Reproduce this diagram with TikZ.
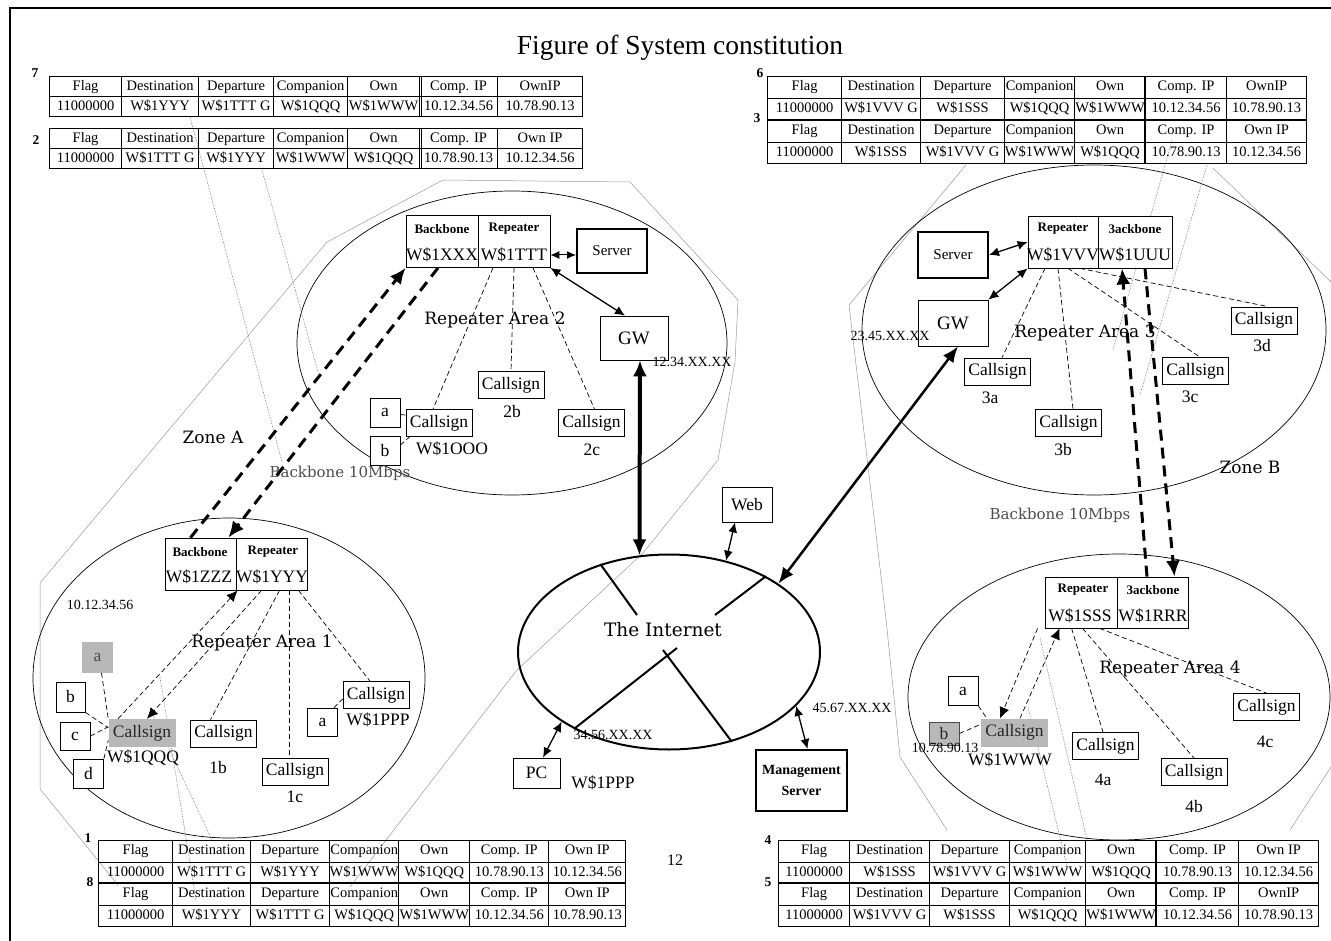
\documentclass[tikz,border=0pt]{standalone}
\usepackage{fontspec}
\setmainfont{Liberation Serif}
\newfontfamily\dvserif{DejaVu Serif}
\usetikzlibrary{arrows.meta,matrix,calc,shapes.geometric}
\newcommand\tabfont{\fontsize{14.5}{16}\selectfont}
\newcommand\csfont{\fontsize{17.5}{19}\selectfont}
\newcommand\hdfont{\bfseries\fontsize{13}{15}\selectfont}
\newcommand\wfont{\fontsize{17.5}{19}\selectfont}
\newcommand\arfont{\dvserif\fontsize{17}{19}\selectfont}
\newcommand\ipfont{\fontsize{14}{16}\selectfont}
\tikzset{
 bx/.style={draw, line width=0.8pt, fill=white, inner sep=0pt, minimum width=66pt, minimum height=27pt, font=\csfont},
 sbx/.style={draw, line width=0.8pt, fill=white, inner sep=0pt, minimum width=30pt, minimum height=29pt, font=\csfont},
 gbx/.style={fill=black!28, text=black!85, inner sep=0pt, minimum width=67pt, minimum height=28pt, font=\csfont},
 rep/.style={draw, line width=0.8pt, fill=white, inner sep=0pt, minimum width=72pt, minimum height=52pt},
 srv/.style={draw, line width=2pt, fill=white, inner sep=0pt, minimum width=70pt, minimum height=44pt, font=\fontsize{15}{17}\selectfont},
 tx/.style={inner sep=0pt},
 dl/.style={line width=0.7pt, dash pattern=on 5pt off 3pt},
 bb/.style={line width=3pt, dash pattern=on 11pt off 7pt},
 zn/.style={draw=black!40, line width=0.5pt},
 dt/.style={black!60, line width=0.6pt, densely dotted},
 dbl/.style={line width=1.3pt, {Latex[length=10pt,width=9pt]}-{Latex[length=10pt,width=9pt]}},
 sa/.style={-{Latex[length=11pt,width=10pt]}},
 tbl/.style={matrix of nodes, inner sep=0pt, column sep=-0.8pt, row sep=-0.8pt,
   nodes={draw, line width=0.8pt, inner sep=0pt, font=\tabfont, minimum height=#1, text height=10pt, text depth=3pt, anchor=center}},
 cols/.style n args={7}{column 1/.style={nodes={minimum width=#1}}, column 2/.style={nodes={minimum width=#2}},
   column 3/.style={nodes={minimum width=#3}}, column 4/.style={nodes={minimum width=#4}},
   column 5/.style={nodes={minimum width=#5}}, column 6/.style={nodes={minimum width=#6}},
   column 7/.style={nodes={minimum width=#7}}},
 num/.style={inner sep=0pt, font=\bfseries\fontsize{13.5}{15}\selectfont},
}
\begin{document}
\begin{tikzpicture}[x=1pt,y=-1pt]
\useasboundingbox (0,0) rectangle (1331,941);
\draw[line width=1.5pt] (1331,8) -- (10,8) -- (10,941);

% zone outlines
\draw[zn] (118,885) -- (40,789) -- (40,583) -- (327,242) -- (443,180) -- (630,182) -- (738,300) -- (735,362) -- (718,460) -- (643,553) -- (517,670) -- (350,887);
\draw[zn] (966,165) -- (849,305) -- (886,619) -- (900,757) -- (947,830);
\draw[zn] (1213,168) -- (1331,282);
\draw[zn] (1331,767) -- (1290,830);

% repeater areas
\draw[line width=0.7pt] (512,343) ellipse [x radius=215pt, y radius=152pt];
\draw[line width=0.7pt] (1094,330) ellipse [x radius=232pt, y radius=165pt];
\draw[line width=0.7pt] (229,678) ellipse [x radius=196pt, y radius=160pt];
\draw[line width=0.7pt] (1119,697) ellipse [x radius=211pt, y radius=143pt];

% message path hints
\draw[dt] (190,117) -- (282,462);
\draw[dt] (262,170) -- (318,372);
\draw[dt] (160,677) -- (196,900);
\draw[dt] (152,713) -- (212,840);
\draw[dt] (1028,707) -- (1068,870);
\draw[dt] (1040,638) -- (1087,840);
\draw[dt] (1172,140) -- (1113,350);
\draw[dt] (1207,165) -- (1140,395);

% title
\node[tx, font=\fontsize{27.5}{30}\selectfont] (title) at (680,48) {Figure of System constitution};

% tables
\node[num] (n7) at (35,73) {7};
\matrix (t7) [tbl=20pt, cols={72}{77}{75}{74}{72}{78}{85}, anchor=north west] at (49,76) {
Flag & Destination & Departure & Companion & Own & Comp. IP & OwnIP \\
11000000 & W\$1YYY & W\$1TTT G & W\$1QQQ & W\$1WWW & 10.12.34.56 & 10.78.90.13 \\
};
\draw[line width=0.8pt] ([xshift=2.5pt]t7-1-6.north west) -- ([xshift=2.5pt]t7-2-6.south west);
\node[num] (n2) at (36,140) {2};
\matrix (t2) [tbl=20pt, cols={72}{77}{75}{74}{72}{78}{85}, anchor=north west] at (49,128) {
Flag & Destination & Departure & Companion & Own & Comp. IP & Own IP \\
11000000 & W\$1TTT G & W\$1YYY & W\$1WWW & W\$1QQQ & 10.78.90.13 & 10.12.34.56 \\
};
\draw[line width=0.8pt] ([xshift=2.5pt]t2-1-6.north west) -- ([xshift=2.5pt]t2-2-6.south west);

\node[num] (n6) at (760,73) {6};
\node[num] (n3) at (757,118) {3};
\matrix (t6) [tbl=21.8pt, cols={74}{79}{84}{70}{71}{81}{80}, anchor=north west] at (767,76) {
Flag & Destination & Departure & Companion & Own & Comp. IP & OwnIP \\
11000000 & W\$1VVV G & W\$1SSS & W\$1QQQ & W\$1WWW & 10.12.34.56 & 10.78.90.13 \\
Flag & Destination & Departure & Companion & Own & Comp. IP & Own IP \\
11000000 & W\$1SSS & W\$1VVV G & W\$1WWW & W\$1QQQ & 10.78.90.13 & 10.12.34.56 \\
};
\draw[line width=1.8pt] (t6-3-1.north west) -- (t6-3-7.north east);
\draw[line width=1.6pt] (t6-1-6.north west) -- (t6-4-6.south west);

\node[num] (n1) at (88,838) {1};
\node[num] (n8) at (90,882) {8};
\matrix (t1) [tbl=21.5pt, cols={74}{78}{79}{69}{71}{79}{77}, anchor=north west] at (98,840) {
Flag & Destination & Departure & Companion & Own & Comp. IP & Own IP \\
11000000 & W\$1TTT G & W\$1YYY & W\$1WWW & W\$1QQQ & 10.78.90.13 & 10.12.34.56 \\
Flag & Destination & Departure & Companion & Own & Comp. IP & Own IP \\
11000000 & W\$1YYY & W\$1TTT G & W\$1QQQ & W\$1WWW & 10.12.34.56 & 10.78.90.13 \\
};
\draw[line width=1.8pt] (t1-3-1.north west) -- (t1-3-7.north east);
\draw[line width=1.6pt] (t1-1-6.north west) -- (t1-4-6.south west);

\node[num] (n4) at (768,840) {4};
\node[num] (n5) at (768,882) {5};
\matrix (t4) [tbl=21.5pt, cols={71}{80}{80}{76}{71}{82}{80}, anchor=north west] at (778,840) {
Flag & Destination & Departure & Companion & Own & Comp. IP & Own IP \\
11000000 & W\$1SSS & W\$1VVV G & W\$1WWW & W\$1QQQ & 10.78.90.13 & 10.12.34.56 \\
Flag & Destination & Departure & Companion & Own & Comp. IP & OwnIP \\
11000000 & W\$1VVV G & W\$1SSS & W\$1QQQ & W\$1WWW & 10.12.34.56 & 10.78.90.13 \\
};
\draw[line width=1.8pt] (t4-3-1.north west) -- (t4-3-7.north east);
\draw[line width=1.6pt] (t4-1-6.north west) -- (t4-4-6.south west);

\node[tx, font=\fontsize{16}{18}\selectfont] (pg) at (675,860) {12};

% ---------- Area 2
\node[rep] (rb2) at (442,241.5) {};
\node[rep] (rr2) at (514,241.5) {};
\node[tx, font=\hdfont] (rb2t) at (442,229) {Backbone};
\node[tx, font=\wfont] (rb2w) at (442,255) {W\$1XXX};
\node[tx, font=\hdfont] (rr2t) at (514,229) {Repeater};
\node[tx, font=\wfont] (rr2w) at (514,255) {W\$1TTT};
\node[srv] (srv2) at (612,251) {Server};
\node[bx, minimum width=68pt, minimum height=44pt, font=\fontsize{19}{21}\selectfont] (gw2) at (634,338) {GW};
\node[tx, font=\ipfont] (gw2ip) at (692,362) {12.34.XX.XX};
\node[tx, font=\arfont] (ar2) at (495,320) {Repeater Area 2};
\node[bx] (cs2a) at (439,423) {Callsign};
\node[tx, font=\wfont] (cs2an) at (452,449) {W\$1OOO};
\node[sbx] (a2) at (385,412.5) {a};
\node[sbx] (b2) at (385,451) {b};
\node[bx] (cs2b) at (511,385) {Callsign};
\node[tx, font=\csfont] (cs2bn) at (512,412) {2b};
\node[bx] (cs2c) at (591.5,423) {Callsign};
\node[tx, font=\csfont] (cs2cn) at (592,450) {2c};

\draw[line width=1pt, {Latex[length=9pt,width=8pt]}-{Latex[length=9pt,width=8pt]}] ([yshift=-13.5pt]rr2.east) -- ([yshift=-4pt]srv2.west);
\draw[dbl] (rr2.south east) -- ([xshift=-9pt]gw2.north);
\draw[dl] ([xshift=-21pt]rr2.south) -- ([xshift=-6pt]cs2a.north);
\draw[dl] (rr2.south) -- (cs2b.north);
\draw[dl] ([xshift=19pt]rr2.south) -- ([xshift=3pt]cs2c.north);
\draw[dl] ([yshift=-2pt]a2.east) -- ([yshift=-6pt]cs2a.north west);
\draw[dl] ([yshift=6pt]b2.east) -- ([xshift=4pt]cs2a.south west);

% ---------- Area 1
\node[rep, minimum width=71pt] (rb1) at (200.5,564) {};
\node[rep, minimum width=71pt] (rr1) at (271.5,564) {};
\node[tx, font=\hdfont] (rb1t) at (200,552) {Backbone};
\node[tx, font=\wfont] (rb1w) at (199,577) {W\$1ZZZ};
\node[tx, font=\hdfont] (rr1t) at (273,552) {Repeater};
\node[tx, font=\wfont] (rr1w) at (272,577) {W\$1YYY};
\node[tx, font=\ipfont] (ip1) at (100,605) {10.12.34.56};
\node[tx, font=\arfont] (ar1) at (262,643) {Repeater Area 1};
\node[gbx, minimum width=31pt, minimum height=31pt, text=black!70] (a1) at (97.5,657.5) {a};
\node[sbx, minimum width=29pt, minimum height=30pt] (b1) at (70.5,697) {b};
\node[sbx, minimum height=28pt] (c1) at (75,736) {c};
\node[sbx, minimum height=29pt] (d1) at (88.5,773.5) {d};
\node[gbx] (cs1q) at (142,733) {Callsign};
\node[tx, font=\wfont] (cs1qn) at (143,758) {W\$1QQQ};
\node[bx] (cs1b) at (223.5,733.5) {Callsign};
\node[tx, font=\csfont] (cs1bn) at (218,768) {1b};
\node[bx] (cs1c) at (295,771.5) {Callsign};
\node[tx, font=\csfont] (cs1cn) at (295,797) {1c};
\node[bx] (cs1p) at (376,695) {Callsign};
\node[tx, font=\wfont] (cs1pn) at (378,720) {W\$1PPP};
\node[sbx, minimum height=28pt] (a1r) at (322.5,722) {a};
\node[tx, font=\arfont] (zoneA) at (213,437) {Zone A};
\node[tx, font=\dvserif\fontsize{15}{17}\selectfont, text=black!70] (bbA) at (340,473) {Backbone 10Mbps};

\draw[dl, sa] ([xshift=-24pt]cs1q.north) -- ([xshift=2pt]rr1.south west);
\draw[dl, sa] ([xshift=-10pt]rr1.south) -- ([xshift=5pt]cs1q.north);
\draw[dl] ([xshift=8pt]rr1.south) -- ([xshift=-13pt]cs1b.north);
\draw[dl] ([xshift=17.5pt]rr1.south) -- ([xshift=-6pt]cs1c.north);
\draw[dl] ([xshift=27pt]rr1.south) -- ([xshift=-6pt]cs1p.north);
\draw[dl] ([xshift=4pt]a1.south) -- (cs1q.north west);
\draw[dl] (b1.south east) -- ([yshift=-9pt]cs1q.north west);
\draw[dl] (c1.east) -- ([yshift=-8pt]cs1q.north west);
\draw[dl] (d1.north east) -- ([yshift=7pt]cs1q.south west);
\draw[dl] ([xshift=-4pt]a1r.north east) -- ([yshift=10pt]cs1p.south west);

% backbone 1-2
\draw[bb, -{Latex[length=16pt,width=14pt]}] ([xshift=-10pt]rb1.north) -- (rb2.south west);
\draw[bb, -{Latex[length=16pt,width=14pt]}] ([xshift=-4pt]rb2.south) -- ([xshift=-8pt]rb1.north east);

% ---------- Internet
\node[ellipse, draw, line width=2pt, minimum width=302pt, minimum height=195pt] (inet) at (669,652) {};
\node[tx, font=\dvserif\fontsize{18.5}{20}\selectfont] (inett) at (663,630) {The Internet};
\draw[line width=2pt] (inet.128) -- (637,615);
\draw[line width=2pt] (inet.38) -- (715,615);
\draw[line width=2pt] (677,648) -- (inet.219);
\draw[line width=2pt] (663,650) -- (inet.305);
\node[bx, minimum width=50pt, minimum height=35pt] (web) at (747,504.5) {Web};
\node[bx, minimum width=47pt, minimum height=30pt] (pc) at (536.5,773) {PC};
\node[tx, font=\wfont] (pcn) at (603,783) {W\$1PPP};
\node[tx, font=\ipfont] (pcip) at (613,735) {34.56.XX.XX};
\node[srv, minimum width=91pt, minimum height=61pt, align=center, font=\bfseries\fontsize{14}{21}\selectfont] (mgmt) at (801.5,780.5) {Management\\Server};
\node[tx, font=\ipfont] (mgip) at (852,708) {45.67.XX.XX};
\draw[dbl] ([xshift=-12pt]web.south) -- (inet.58);
\draw[dbl] ([xshift=6.5pt]pc.north) -- (inet.213);
\draw[dbl] ([xshift=6pt]mgmt.north) -- (inet.337);
\draw[line width=4pt, {Latex[length=16pt,width=14pt]}-{Latex[length=16pt,width=14pt]}] ([xshift=6pt]gw2.south) -- (inet.107);

% ---------- Area 3
\node[rep, minimum width=70pt] (rr3) at (1063,242) {};
\node[rep, minimum width=74pt] (rb3) at (1135,242) {};
\node[tx, font=\hdfont] (rr3t) at (1063,229) {Repeater};
\node[tx, font=\wfont] (rr3w) at (1063,255) {W\$1VVV};
\node[tx, font=\hdfont] (rb3t) at (1135,229) {3ackbone};
\node[tx, font=\wfont] (rb3w) at (1135,255) {W\$1UUU};
\node[srv, minimum height=46pt] (srv3) at (953,255) {Server};
\node[bx, minimum width=70pt, minimum height=46pt, font=\fontsize{19}{21}\selectfont] (gw3) at (953,323) {GW};
\node[tx, font=\ipfont] (ip3) at (890,336) {23.45.XX.XX};
\node[tx, font=\arfont] (ar3) at (1085,333) {Repeater Area 3};
\node[bx] (cs3a) at (997.5,371.5) {Callsign};
\node[tx, font=\csfont] (cs3an) at (990,398) {3a};
\node[bx] (cs3b) at (1068.5,423) {Callsign};
\node[tx, font=\csfont] (cs3bn) at (1063,450) {3b};
\node[bx] (cs3c) at (1195.5,371) {Callsign};
\node[tx, font=\csfont] (cs3cn) at (1190,397) {3c};
\node[bx] (cs3d) at (1264,320.5) {Callsign};
\node[tx, font=\csfont] (cs3dn) at (1262,346) {3d};
\node[tx, font=\arfont] (zoneB) at (1250,467) {Zone B};
\node[tx, font=\dvserif\fontsize{15}{17}\selectfont, text=black!70] (bbB) at (1060,515) {Backbone 10Mbps};

\draw[dbl] (srv3.east) -- (rr3.west);
\draw[dbl] (gw3.north east) -- (rr3.south west);
\draw[dl] ([xshift=-18pt]rr3.south) -- ([xshift=4.5pt]cs3a.north);
\draw[dl] ([xshift=-5pt]rr3.south) -- ([xshift=4.5pt]cs3b.north);
\draw[dl] ([xshift=5pt]rr3.south) -- ([xshift=4.5pt]cs3c.north);
\draw[dl] ([xshift=17pt]rr3.south) -- ([xshift=4pt]cs3d.north);
\draw[line width=2.5pt, {Latex[length=16pt,width=13pt]}-{Latex[length=16pt,width=13pt]}] ([xshift=5pt]gw3.south) -- (inet.32);

% ---------- Area 4
\node[rep, minimum width=72pt, minimum height=51pt] (rr4) at (1081,602.5) {};
\node[rep, minimum width=71pt, minimum height=51pt] (rb4) at (1152.5,602.5) {};
\node[tx, font=\hdfont] (rr4t) at (1083,590) {Repeater};
\node[tx, font=\wfont] (rr4w) at (1080,616) {W\$1SSS};
\node[tx, font=\hdfont] (rb4t) at (1153,590) {3ackbone};
\node[tx, font=\wfont] (rb4w) at (1153,616) {W\$1RRR};
\node[tx, font=\arfont] (ar4) at (1170,669) {Repeater Area 4};
\node[sbx] (a4) at (963,691) {a};
\node[gbx, draw=black!70, line width=0.8pt, minimum width=30pt, minimum height=23pt] (b4) at (944,733.5) {b};
\node[gbx] (cs4w) at (1014.5,732.5) {Callsign};
\node[tx, font=\wfont] (cs4wn) at (1010,760) {W\$1WWW};
\node[tx, font=\ipfont] (ip4) at (945,748) {10.78.90.13};
\node[bx] (cs4a) at (1105.5,746) {Callsign};
\node[tx, font=\csfont] (cs4an) at (1103,780) {4a};
\node[bx] (cs4b) at (1194,772) {Callsign};
\node[tx, font=\csfont] (cs4bn) at (1194,807) {4b};
\node[bx] (cs4c) at (1266.5,707) {Callsign};
\node[tx, font=\csfont] (cs4cn) at (1265,742) {4c};

\draw[dl, sa] ([xshift=-7pt]rr4.south west) -- ([xshift=-14.5pt]cs4w.north);
\draw[dl, sa] ([xshift=5.5pt]cs4w.north) -- ([xshift=15pt]rr4.south west);
\draw[dl] ([xshift=27pt]rr4.south west) -- ([xshift=-2.5pt]cs4a.north);
\draw[dl] ([xshift=38pt]rr4.south west) -- (cs4b.north);
\draw[dl] ([xshift=55pt]rr4.south west) -- (cs4c.north);
\draw[dl] (a4.south east) -- ([xshift=6pt]cs4w.north west);
\draw[dl] (b4.east) -- ([yshift=-6pt]cs4w.north west);

% backbone 3-4
\draw[bb, -{Latex[length=16pt,width=14pt]}] ([xshift=-5.5pt]rb4.north) -- ([xshift=-13pt]rb3.south);
\draw[bb, -{Latex[length=16pt,width=14pt]}] ([xshift=10pt]rb3.south) -- ([xshift=22pt]rb4.north);
\end{tikzpicture}
\end{document}
